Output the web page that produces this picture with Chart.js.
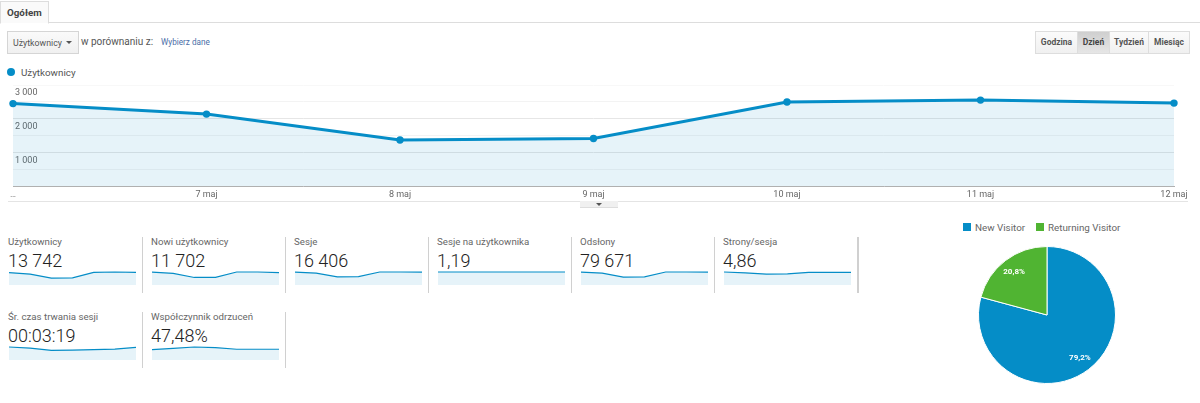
<!DOCTYPE html>
<html lang="pl"><head><meta charset="utf-8">
<script src="https://cdn.jsdelivr.net/npm/chart.js@4"></script>
<style>
html,body{margin:0;padding:0;background:#fff;width:1200px;height:403px;overflow:hidden;font-family:Roboto,sans-serif;color:#555}
.a{position:absolute;white-space:nowrap}
canvas{position:absolute;display:block}
#tab{left:0;top:1px;width:47px;height:21px;border:1px solid #ddd;border-bottom:1px solid #fff;background:#fafafa;font-size:9.8px;font-weight:700;line-height:22px;text-indent:6px;color:#444;z-index:2}
#hr1{left:0;top:22px;width:1200px;height:1px;background:#ddd}
#dd{left:7px;top:31px;width:70px;height:21px;border:1px solid #d5d5d5;background:linear-gradient(#fafafa,#f0f0f0);font-size:8.8px;line-height:22px;text-indent:5px;color:#555}
#ar{left:66px;top:41px;width:0;height:0;border:3px solid transparent;border-top:3px solid #555}
#cmp{left:81px;top:36px;font-size:10px;line-height:12px;color:#555}
#pick{left:161px;top:36px;font-size:8.2px;line-height:12px;color:#4a6da7}
.b{position:absolute;top:31px;height:21px;border:1px solid #ddd;background:linear-gradient(#fbfbfb,#f0f0f0);font-size:8.5px;font-weight:700;line-height:21px;text-align:center;color:#555;box-sizing:content-box}
.b.on{background:linear-gradient(#cfcfcf,#e6e6e6);color:#444}
#dot{left:7px;top:68px;width:8px;height:8px;border-radius:50%;background:#058dc7}
#lg{left:21px;top:66px;font-size:9.8px;line-height:13px;color:#555}
#hr2{left:8px;top:201px;width:1180px;height:1px;background:#e4e4e4}
#tg{left:580px;top:201px;width:38px;height:6px;background:#f0f0f0;border-bottom:1px solid #ddd}
#tga{left:596px;top:203px;width:0;height:0;border:3px solid transparent;border-top:3px solid #555}
.t{font-size:9.7px;line-height:13px;color:#666}
.v{font-size:18px;font-weight:300;line-height:22px;color:#222}
.s{width:1px;background:#d0d0d0}
.sq{width:8px;height:8px}
.pl{font-size:9.8px;line-height:13px;color:#666}
</style></head><body>
<div class="a" id="tab">Ogółem</div><div class="a" id="hr1"></div>
<div class="a" id="dd">Użytkownicy</div><div class="a" id="ar"></div>
<div class="a" id="cmp">w porównaniu z:</div><div class="a" id="pick">Wybierz dane</div>
<div id="btns"></div>
<div class="a" id="dot"></div><div class="a" id="lg">Użytkownicy</div>
<canvas id="main" width="1200" height="130" style="left:0;top:75px;width:1200px;height:130px"></canvas>
<div class="a" id="hr2"></div><div class="a" id="tg"></div><div class="a" id="tga"></div>
<div id="metrics"></div>
<div class="a sq" style="left:963px;top:223px;background:#058dc7"></div><div class="a pl" id="pl0" style="left:975px;top:221px"></div>
<div class="a sq" style="left:1036px;top:223px;background:#50b432"></div><div class="a pl" id="pl1" style="left:1048px;top:221px"></div>
<canvas id="pie" width="142" height="142" style="left:976px;top:244px;width:142px;height:142px"></canvas>
<script>
const days = ['…','7 maj','8 maj','9 maj','10 maj','11 maj','12 maj'];
const users = [2448,2136,1365,1410,2493,2552,2463];
const yTickLabels = {1000:'1 000',2000:'2 000',3000:'3 000'};
const rangeButtons = ['Godzina','Dzień','Tydzień','Miesiąc'];
const metricTitles = ['Użytkownicy','Nowi użytkownicy','Sesje','Sesje na użytkownika','Odsłony','Strony/sesja','Śr. czas trwania sesji','Współczynnik odrzuceń'];
const metricValues = ['13 742','11 702','16 406','1,19','79 671','4,86','00:03:19','47,48%'];
const sparkUsers = [2448,2136,1365,1410,2493,2552,2463];
const sparkNew = [1930,1740,1130,1150,1950,1950,1850];
const sparkSessions = [2600,2400,1650,1680,2630,2630,2620];
const sparkPerUser = [1.19,1.19,1.19,1.19,1.19,1.19,1.19];
const sparkViews = [12900,11800,7900,8200,13000,13000,12870];
const sparkPages = [4.90,4.84,4.75,4.77,4.88,4.87,4.87];
const sparkTime = [215,207,190,192,196,200,212];
const sparkBounce = [46.5,48,49.5,48.8,47,47,47];
const sparkMins = [0,0,0,0,0,3.96,120,35];
const pieLabels = ['New Visitor','Returning Visitor'];
const pieValues = [79.2,20.8];

const BLUE='#058dc7', GREEN='#50b432', FILL='rgba(5,141,199,0.1)';
Chart.defaults.font.family='Roboto, sans-serif';
Chart.defaults.animation=false;

const btnX=[1035,1077,1109,1148], btnW=[41,31,38,40];
rangeButtons.forEach((b,i)=>{
  const d=document.createElement('div');
  d.className='b'+(i===1?' on':'');
  d.style.left=btnX[i]+'px'; d.style.width=btnW[i]+'px';
  d.textContent=b;
  document.getElementById('btns').appendChild(d);
});
document.getElementById('pl0').textContent=pieLabels[0];
document.getElementById('pl1').textContent=pieLabels[1];

new Chart(document.getElementById('main'),{
  type:'line',
  data:{labels:days,datasets:[{data:users,borderColor:BLUE,backgroundColor:FILL,fill:'origin',borderWidth:3,pointRadius:3.7,pointBackgroundColor:BLUE,pointBorderColor:BLUE,pointBorderWidth:0,tension:0,clip:false}]},
  options:{
    responsive:false,
    layout:{padding:{left:13,right:26,top:10,bottom:0}},
    plugins:{legend:{display:false},tooltip:{enabled:false}},
    scales:{
      x:{grid:{display:false,drawTicks:false,tickLength:0},border:{display:true,color:'#b0b0b0',width:1},
         afterFit:s=>{s.height=19},
         ticks:{maxRotation:0,autoSkip:false,padding:3,color:'#666',font:{size:9}}},
      y:{min:0,max:3000,border:{display:false},
         afterFit:s=>{s.width=0},
         grid:{drawTicks:false,color:c=>c.tick.value===3000?'#f8f8f8':(c.tick.value%1000===0?'#e6e6e6':'#f3f3f3')},
         ticks:{stepSize:500,mirror:true,padding:2,labelOffset:8,autoSkip:false,color:'#666',font:{size:9},callback:v=>yTickLabels[v]||''}}
    }
  }
});

const sparkSeries=[sparkUsers,sparkNew,sparkSessions,sparkPerUser,sparkViews,sparkPages,sparkTime,sparkBounce];
const host=document.getElementById('metrics');
metricTitles.forEach((title,i)=>{
  const row=i<6?0:1, col=i<6?i:i-6;
  const x=143*col, y=row*75;
  const add=(cls,left,top,txt)=>{const d=document.createElement('div');d.className='a '+cls;d.style.left=left+'px';d.style.top=top+'px';if(txt)d.textContent=txt;host.appendChild(d);return d;};
  add('t',x+8,y+235,title);
  add('v',x+8,y+250,metricValues[i]);
  const sep=add('s',x+142,y+237); sep.style.height='56px';
  const c=document.createElement('canvas');
  c.width=127;c.height=15;c.style.cssText='left:'+(x+9)+'px;top:'+(y+270)+'px;width:127px;height:15px';
  host.appendChild(c);
  const data=sparkSeries[i];
  new Chart(c,{type:'line',
    data:{labels:days,datasets:[{data:data,borderColor:BLUE,backgroundColor:FILL,fill:'origin',borderWidth:1.2,pointRadius:0,tension:0,clip:false}]},
    options:{responsive:false,layout:{padding:{top:2}},plugins:{legend:{display:false},tooltip:{enabled:false}},
      scales:{x:{display:false},y:{display:false,min:sparkMins[i],max:Math.max(...data)}}}
  });
});
(()=>{const s=document.createElement('div');s.className='a s';s.style.cssText='left:858px;top:237px;height:56px';host.appendChild(s);})();

const pieText={id:'pieText',afterDatasetsDraw(ch){
  const ctx=ch.ctx;ctx.save();ctx.fillStyle='#fff';ctx.font='bold 8px Roboto, sans-serif';ctx.textAlign='center';ctx.textBaseline='middle';
  ch.getDatasetMeta(0).data.forEach((a,i)=>{
    const m=(a.startAngle+a.endAngle)/2, r=a.outerRadius*0.79;
    ctx.fillText(pieValues[i].toFixed(1).replace('.',',')+'%',a.x+Math.cos(m)*r,a.y+Math.sin(m)*r);
  });ctx.restore();
}};
new Chart(document.getElementById('pie'),{type:'pie',plugins:[pieText],
  data:{labels:pieLabels,datasets:[{data:pieValues,backgroundColor:[BLUE,GREEN],borderColor:'#fff',borderWidth:1}]},
  options:{responsive:false,layout:{padding:2},plugins:{legend:{display:false},tooltip:{enabled:false}}}
});
</script></body></html>
